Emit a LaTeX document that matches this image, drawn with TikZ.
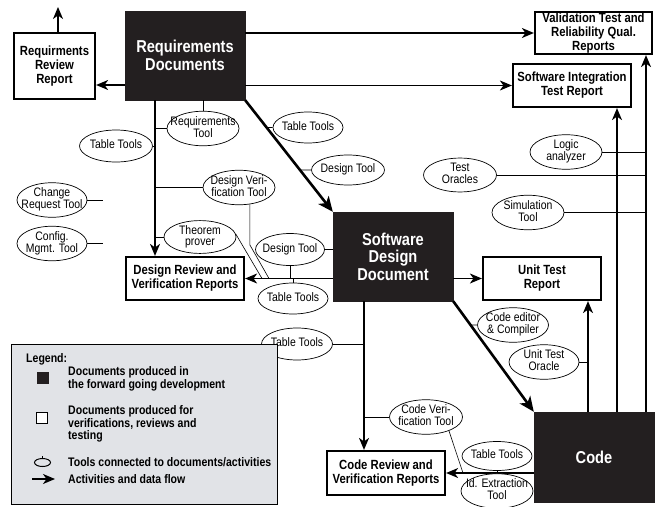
\documentclass[tikz,border=0pt]{standalone}
\usepackage{fontspec}
\setmainfont{Liberation Sans}[FakeStretch=0.85]
\usetikzlibrary{arrows.meta,shapes.geometric}
\definecolor{docblack}{RGB}{35,31,32}
\definecolor{leggray}{RGB}{225,227,231}
\newcommand\tooltxt[1]{\makebox[0pt]{\begin{tabular}{@{}c@{}}#1\end{tabular}}}
\tikzset{
  fwd/.style={rectangle, fill=docblack, draw=docblack, text=white,
    font=\fontsize{17.2}{17.5}\selectfont\bfseries, align=center, inner sep=0pt,
    minimum width=120pt, minimum height=89pt},
  rep/.style={rectangle, draw=black, line width=2.2pt, fill=white,
    font=\fontsize{13.3}{14}\selectfont\bfseries, align=center, inner sep=0pt},
  tool/.style={ellipse, draw=black, line width=0.7pt, fill=white, inner sep=0pt,
    minimum width=72pt, minimum height=30pt, font=\fontsize{12.3}{11}\selectfont},
  flow/.style={line width=1.3pt, -{Stealth[length=12pt,width=10pt,inset=3.5pt]}},
  mainflow/.style={line width=2.6pt, -{Stealth[length=15pt,width=13pt,inset=4pt]}},
  tl/.style={line width=0.6pt},
  legtext/.style={font=\fontsize{12.4}{12.8}\selectfont\bfseries, inner sep=0pt, anchor=west, align=left},
}
\begin{document}
\begin{tikzpicture}[x=1pt,y=-1pt]
\useasboundingbox (0,0) rectangle (655,506);

% documents
\node[fwd] (rd) at (185,55.5) {Requirements\\Documents};
\node[rep, minimum width=81pt, minimum height=66pt] (rrr) at (54.5,66) {Requirments\\Review\\Report};
\node[rep, minimum width=117pt, minimum height=42pt] (val) at (593.5,33) {Validation Test and\\Reliability Qual.\\Reports};
\node[rep, minimum width=118pt, minimum height=43pt] (sit) at (572,85.5) {Software Integration\\Test Report};
\node[fwd] (sdd) at (393,256.5) {Software\\Design\\Document};
\node[rep, minimum width=118pt, minimum height=43pt] (utr) at (542,278.5) {Unit Test\\Report};
\node[fwd, minimum height=90pt] (code) at (594,457) {Code};
\node[rep, minimum width=118pt, minimum height=43pt] (drv) at (185,278.5) {Design Review and\\Verification Reports};
\node[rep, minimum width=118pt, minimum height=44pt] (crv) at (386,473) {Code Review and\\Verification Reports};

% helper coordinates
\coordinate (rdv) at (155,100);
\coordinate (sddv) at (364,301);
\coordinate (c1) at (588,412);
\coordinate (c2) at (617,412);
\coordinate (c3) at (646,412);
\coordinate (rrrup) at (58,7);
\coordinate (rrry) at (0,85);

% flows
\draw[flow] (rrr.north -| rrrup) -- (rrrup);
\draw[flow] (rd.west |- rrry) -- (rrr.east |- rrry);
\draw[flow] (rd.east |- val.west) -- (val.west);
\draw[flow] (rd.east |- sit.west) -- (sit.west);
\draw[flow] (rdv) -- (rdv |- drv.north);
\draw[mainflow] (rd.south east) -- (sdd.north west);
\draw[flow] (sdd.west |- drv.east) -- (drv.east);
\draw[flow] (sdd.east |- utr.west) -- (utr.west);
\draw[flow] (sddv) -- (sddv |- crv.north);
\draw[mainflow] (sdd.south east) -- (code.north west);
\draw[flow] (code.west |- crv.east) -- (crv.east);
\draw[flow] (c1) -- (c1 |- utr.south);
\draw[flow] (c2) -- (c2 |- sit.south);
\draw[flow] (c3) -- (c3 |- val.south);

% tools
\node[tool] (tReq) at (203,128.5) {\tooltxt{Requirements\\Tool}};
\node[tool, minimum width=73pt, minimum height=32pt] (tTab1) at (116,146) {\tooltxt{Table Tools}};
\node[tool, minimum width=70pt, minimum height=31pt] (tTab2) at (308,127.5) {\tooltxt{Table Tools}};
\node[tool, minimum width=73pt] (tDes1) at (348,170) {\tooltxt{Design Tool}};
\node[tool, minimum height=29pt] (tDV) at (239,187.5) {\tooltxt{Design Veri-\\fication Tool}};
\node[tool] (tThm) at (200,237) {\tooltxt{Theorem\\prover}};
\node[tool, minimum width=69pt, minimum height=32pt] (tDes2) at (290,249.5) {\tooltxt{Design Tool}};
\node[tool, minimum width=70pt, minimum height=31pt] (tTab3) at (293,298.5) {\tooltxt{Table Tools}};
\node[tool, minimum width=70pt] (tChg) at (52,200) {\tooltxt{Change\\Request Tool}};
\node[tool, minimum width=70pt, minimum height=32pt] (tCfg) at (52,243.5) {\tooltxt{Config.\\Mgmt. Tool}};
\node[tool] (tLog) at (566,152) {\tooltxt{Logic\\analyzer}};
\node[tool, minimum width=73pt, minimum height=32pt] (tOra) at (460,175) {\tooltxt{Test\\Oracles}};
\node[tool, minimum height=29pt] (tSim) at (528,212.5) {\tooltxt{Simulation\\Tool}};
\node[tool, minimum width=71pt, minimum height=32pt] (tTab4) at (297,344) {\tooltxt{Table Tools}};
\node[tool, minimum width=71pt] (tCE) at (513,325) {\tooltxt{Code editor\\\& Compiler}};
\node[tool, minimum width=70pt] (tUTO) at (544,362) {\tooltxt{Unit Test\\Oracle}};
\node[tool, minimum width=73pt, minimum height=27pt] (tCV) at (426,417) {\tooltxt{Code Veri-\\fication Tool}};
\node[tool, minimum width=70pt, minimum height=29pt] (tTab5) at (497,456) {\tooltxt{Table Tools}};
\node[tool, minimum width=72pt, minimum height=28pt] (tId) at (497,491) {\tooltxt{Id. Extraction\\Tool}};

\coordinate (chgend) at (103,200);
\coordinate (dvbend) at (248,245);
\coordinate (dvend) at (269,278.5);
\coordinate (thmend) at (262,278.5);
\coordinate (cvend) at (463,473);

% tool connectors
\draw[tl] (tReq.north) -- (tReq.north |- rd.south);
\draw[tl] (tReq.west) -- (tReq.west -| rdv);
\draw[tl] (tTab1.east) -- (tTab1.east -| rdv);
\draw[tl] (tTab2.west) -- (intersection of tTab2.west--tTab2.east and rd.south east--sdd.north west);
\draw[tl] (tDes1.west) -- (intersection of tDes1.west--tDes1.east and rd.south east--sdd.north west);
\draw[tl] (tDV.west) -- (tDV.west -| rdv);
\draw[tl] (tDV.-57) -- (tDV.-57 |- dvbend) -- (dvend);
\draw[tl] (tThm.west) -- (tThm.west -| rdv);
\draw[tl] (tThm.5) -- (thmend);
\draw[tl] (tDes2.east) -- (tDes2.east -| sdd.west);
\draw[tl] (tDes2.south) -- (tDes2.south |- drv.east);
\draw[tl] (tTab3.north) -- (tTab3.north |- drv.east);
\draw[tl] (tChg.east) -- (tChg.east -| chgend);
\draw[tl] (tCfg.east) -- (tCfg.east -| chgend);
\draw[tl] (tLog.east) -- (tLog.east -| c3);
\draw[tl] (tOra.east) -- (tOra.east -| c3);
\draw[tl] (tSim.east) -- (tSim.east -| c3);
\draw[tl] (tTab4.east) -- (tTab4.east -| sddv);
\draw[tl] (tCE.west) -- (intersection of tCE.west--tCE.east and sdd.south east--code.north west);
\draw[tl] (tUTO.east) -- (tUTO.east -| c1);
\draw[tl] (tCV.west) -- (tCV.west -| sddv);
\draw[tl] (tCV.-31) -- (cvend);
\draw[tl] (tTab5.south) -- (tId.north);

% legend
\node[draw=black, line width=1.2pt, fill=leggray, minimum width=266pt, minimum height=160pt, inner sep=0pt] (leg) at (144.5,424.5) {};
\node[legtext] (legT) at (26,359) {Legend:};
\node[fill=docblack, minimum size=12pt, inner sep=0pt] (lsq1) at (43,377.5) {};
\node[legtext] (lt1) at (68,379) {Documents produced in\\the forward going development};
\node[draw=black, line width=1pt, fill=white, minimum size=11pt, inner sep=0pt] (lsq2) at (42,417.5) {};
\node[legtext] (lt2) at (68,424) {Documents produced for\\verifications, reviews and\\testing};
\node[ellipse, draw=black, line width=1pt, minimum width=16pt, minimum height=8pt, inner sep=0pt] (lel) at (42.5,462.5) {};
\coordinate (lelt) at (42.5,455.5);
\draw[line width=1pt] (lel.north) -- (lelt);
\node[legtext] (lt3) at (68,462) {Tools connected to documents/activities};
\coordinate (la1) at (32,479);
\coordinate (la2) at (55,479);
\draw[flow] (la1) -- (la2);
\node[legtext] (lt4) at (68,479) {Activities and data flow};
\end{tikzpicture}
\end{document}
